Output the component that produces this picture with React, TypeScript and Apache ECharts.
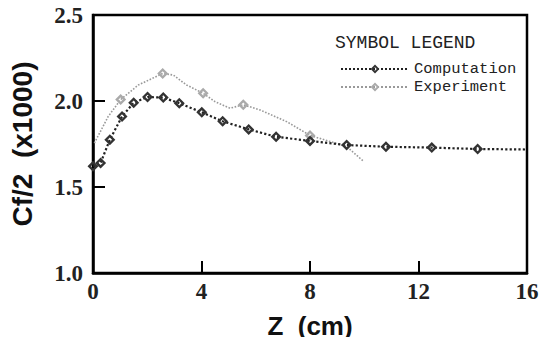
import React, { useEffect, useRef } from "react";
import * as echarts from "echarts";

const compX = [0, 0.28, 0.62, 1.07, 1.5, 2.01, 2.59, 3.18, 4.01, 4.78, 5.74, 6.75, 8.0, 9.35, 10.8, 12.49, 14.18, 16];
const compY = [1.62, 1.64, 1.775, 1.91, 1.99, 2.023, 2.02, 1.987, 1.934, 1.882, 1.835, 1.792, 1.768, 1.744, 1.734, 1.729, 1.721, 1.718];
const compMarked = [true, true, true, true, true, true, true, true, true, true, true, true, true, true, true, true, true, false];

const expX = [0.05, 0.56, 1.02, 1.67, 2.57, 2.96, 3.45, 4.06, 4.5, 5.05, 5.54, 6.16, 7.14, 8.0, 9.35, 9.97];
const expY = [1.755, 1.91, 2.008, 2.093, 2.16, 2.151, 2.093, 2.045, 1.996, 1.958, 1.978, 1.948, 1.88, 1.8, 1.735, 1.65];
const expMarked = [false, false, true, false, true, false, false, true, false, false, true, false, false, true, false, false];

const xTicks = [0, 4, 8, 12, 16];
const yTicks = [1.0, 1.5, 2.0, 2.5];

const MARK = "path://M5,0 L10,5 L5,10 L0,5 Z M5,3 L3,5 L5,7 L7,5 Z";

export default function App() {
  const ref = useRef<HTMLDivElement>(null);
  useEffect(() => {
    if (!ref.current) return;
    const chart = echarts.init(ref.current, undefined, { renderer: "svg" });
    const mk = (xs: number[], ys: number[], marks: boolean[]) =>
      xs.map((x, i) => ({ value: [x, ys[i]], symbol: marks[i] ? MARK : "none" }));
    chart.setOption({
      animation: false,
      backgroundColor: "#fff",
      grid: {
        left: 93, right: 28, top: 15, bottom: 72,
        show: true, borderColor: "#000", borderWidth: 2.5, backgroundColor: "transparent",
      },
      xAxis: {
        type: "value", min: xTicks[0], max: xTicks[xTicks.length - 1], interval: 4,
        name: "Z  (cm)", nameLocation: "middle", nameGap: 40,
        nameTextStyle: { fontFamily: "Liberation Sans", fontWeight: "bold", fontSize: 26, color: "#111" },
        axisLine: { show: true, lineStyle: { color: "#000", width: 2.5 } },
        axisTick: { show: true, inside: true, length: 12, lineStyle: { color: "#000", width: 2 } },
        axisLabel: { fontFamily: "Liberation Serif", fontWeight: "bold", fontSize: 23, color: "#222", margin: 7 },
        splitLine: { show: false },
      },
      yAxis: {
        type: "value", min: yTicks[0], max: yTicks[yTicks.length - 1], interval: 0.5,
        name: "Cf/2  (x1000)", nameLocation: "middle", nameGap: 57, nameRotate: 90,
        nameTextStyle: { fontFamily: "Liberation Sans", fontWeight: "bold", fontSize: 28, color: "#111" },
        axisLine: { show: true, lineStyle: { color: "#000", width: 2.5 } },
        axisTick: { show: true, inside: true, length: 12, lineStyle: { color: "#000", width: 2 } },
        axisLabel: {
          fontFamily: "Liberation Serif", fontWeight: "bold", fontSize: 23, color: "#222", margin: 10,
          formatter: (v: number) => v.toFixed(1),
        },
        splitLine: { show: false },
      },
      legend: {
        orient: "vertical", left: 335, top: 56, itemWidth: 68, itemHeight: 11, itemGap: 2,
        textStyle: { fontFamily: "Liberation Mono", fontSize: 15.5, color: "#222" },
        data: ["Computation", "Experiment"],
      },
      graphic: [
        {
          type: "text", left: 335, top: 34,
          style: { text: "SYMBOL LEGEND", font: "18px 'Liberation Mono'", fill: "#222" },
        },
      ],
      series: [
        {
          name: "Computation", type: "line", data: mk(compX, compY, compMarked),
          symbol: MARK, symbolSize: 11, showAllSymbol: true,
          lineStyle: { type: "dotted", color: "#222", width: 2.2 },
          itemStyle: { color: "#333" },
          z: 3,
        },
        {
          name: "Experiment", type: "line", data: mk(expX, expY, expMarked),
          symbol: MARK, symbolSize: 11, showAllSymbol: true,
          lineStyle: { type: "dotted", color: "#999", width: 1.6 },
          itemStyle: { color: "#aaa" },
          z: 2,
        },
      ],
    });
    return () => chart.dispose();
  }, []);
  return <div ref={ref} style={{ width: 555, height: 345, margin: -8 }} />;
}
